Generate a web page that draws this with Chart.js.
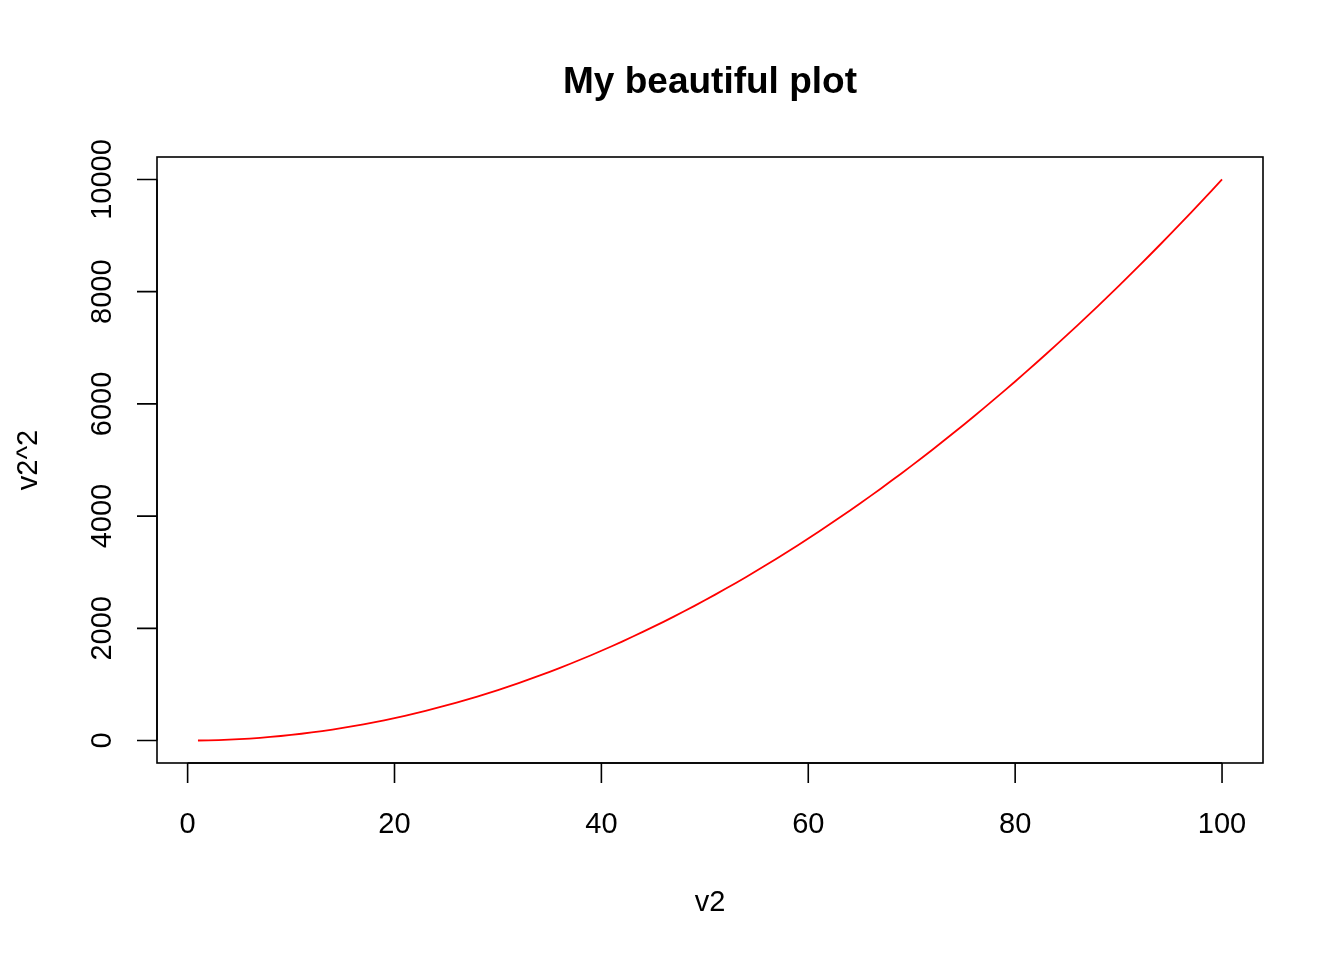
<!DOCTYPE html>
<html>
<head>
<meta charset="utf-8">
<script src="https://cdn.jsdelivr.net/npm/chart.js@4"></script>
<style>
html,body{margin:0;padding:0;background:#fff;}
#wrap{width:1344px;height:960px;position:relative;}
</style>
</head>
<body>
<div id="wrap"><canvas id="c"></canvas></div>
<script>
const titleText = "My beautiful plot";
const xLabel = "v2";
const yLabel = "v2^2";
const xTicks = [0, 20, 40, 60, 80, 100];
const yTicks = [0, 2000, 4000, 6000, 8000, 10000];
const v2 = [1,2,3,4,5,6,7,8,9,10,11,12,13,14,15,16,17,18,19,20,21,22,23,24,25,26,27,28,29,30,31,32,33,34,35,36,37,38,39,40,41,42,43,44,45,46,47,48,49,50,51,52,53,54,55,56,57,58,59,60,61,62,63,64,65,66,67,68,69,70,71,72,73,74,75,76,77,78,79,80,81,82,83,84,85,86,87,88,89,90,91,92,93,94,95,96,97,98,99,100];
const v2sq = [1,4,9,16,25,36,49,64,81,100,121,144,169,196,225,256,289,324,361,400,441,484,529,576,625,676,729,784,841,900,961,1024,1089,1156,1225,1296,1369,1444,1521,1600,1681,1764,1849,1936,2025,2116,2209,2304,2401,2500,2601,2704,2809,2916,3025,3136,3249,3364,3481,3600,3721,3844,3969,4096,4225,4356,4489,4624,4761,4900,5041,5184,5329,5476,5625,5776,5929,6084,6241,6400,6561,6724,6889,7056,7225,7396,7569,7744,7921,8100,8281,8464,8649,8836,9025,9216,9409,9604,9801,10000];

const FONT = '"Liberation Sans", Arial, Helvetica, sans-serif';

const rAxes = {
  id: 'rAxes',
  afterDraw(chart) {
    const ctx = chart.ctx;
    const a = chart.chartArea;
    const xs = chart.scales.x, ys = chart.scales.y;
    ctx.save();
    ctx.strokeStyle = '#000';
    ctx.fillStyle = '#000';
    ctx.lineWidth = 1.6;
    // box
    ctx.strokeRect(a.left, a.top, a.right - a.left, a.bottom - a.top);
    // x axis
    ctx.font = '29px ' + FONT;
    ctx.textAlign = 'center';
    ctx.textBaseline = 'alphabetic';
    ctx.beginPath();
    ctx.moveTo(xs.getPixelForValue(xTicks[0]), a.bottom);
    ctx.lineTo(xs.getPixelForValue(xTicks[xTicks.length-1]), a.bottom);
    xTicks.forEach(v => {
      const px = xs.getPixelForValue(v);
      ctx.moveTo(px, a.bottom);
      ctx.lineTo(px, a.bottom + 20);
    });
    ctx.stroke();
    xTicks.forEach(v => {
      ctx.fillText(String(v), xs.getPixelForValue(v), a.bottom + 70);
    });
    // y axis
    ctx.beginPath();
    ctx.moveTo(a.left, ys.getPixelForValue(yTicks[0]));
    ctx.lineTo(a.left, ys.getPixelForValue(yTicks[yTicks.length-1]));
    yTicks.forEach(v => {
      const py = ys.getPixelForValue(v);
      ctx.moveTo(a.left, py);
      ctx.lineTo(a.left - 20, py);
    });
    ctx.stroke();
    yTicks.forEach(v => {
      const py = ys.getPixelForValue(v);
      ctx.save();
      ctx.translate(a.left - 46, py);
      ctx.rotate(-Math.PI / 2);
      ctx.fillText(String(v), 0, 0);
      ctx.restore();
    });
    // axis titles
    ctx.fillText(xLabel, (a.left + a.right) / 2, 911);
    ctx.save();
    ctx.translate(37, (a.top + a.bottom) / 2);
    ctx.rotate(-Math.PI / 2);
    ctx.fillText(yLabel, 0, 0);
    ctx.restore();
    // title
    ctx.font = 'bold 37px ' + FONT;
    ctx.fillText(titleText, (a.left + a.right) / 2, 93);
    ctx.restore();
  }
};

new Chart(document.getElementById('c'), {
  type: 'line',
  data: {
    datasets: [{
      data: v2.map((x, i) => ({x: x, y: v2sq[i]})),
      borderColor: '#ff0000',
      borderWidth: 1.8,
      pointRadius: 0,
      tension: 0,
      fill: false
    }]
  },
  options: {
    responsive: true,
    maintainAspectRatio: false,
    animation: false,
    devicePixelRatio: 1,
    layout: { padding: { left: 157, right: 81, top: 157, bottom: 197 } },
    plugins: { legend: { display: false }, tooltip: { enabled: false }, title: { display: false } },
    scales: {
      x: { type: 'linear', min: -2.96, max: 103.96, display: false },
      y: { type: 'linear', min: -399.96, max: 10399.96, display: false }
    }
  },
  plugins: [rAxes]
});
</script>
</body>
</html>
